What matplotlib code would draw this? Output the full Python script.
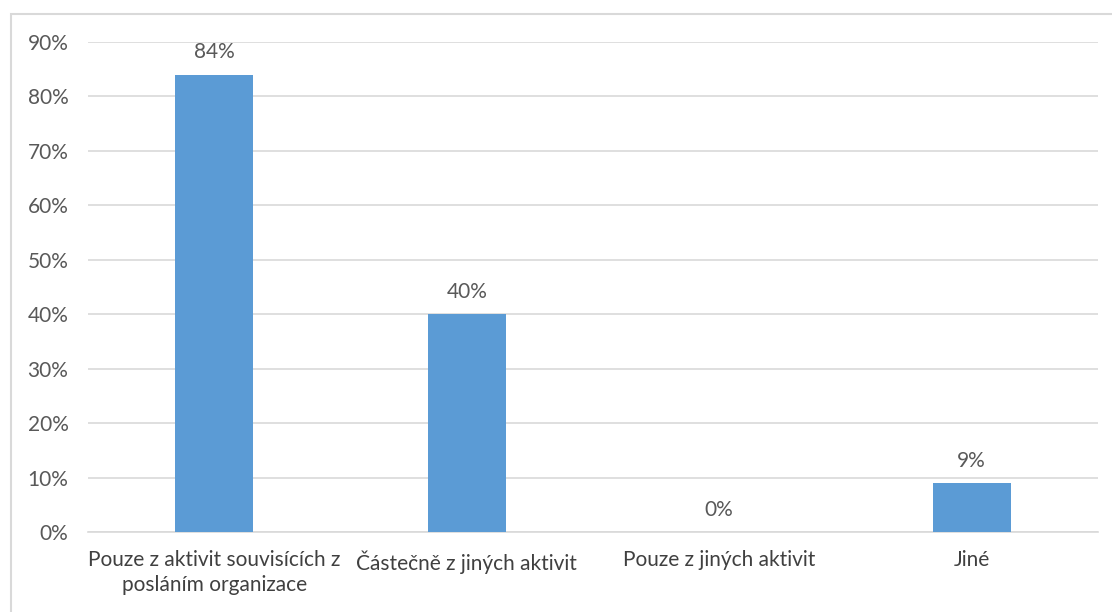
import matplotlib.pyplot as plt
from matplotlib.patches import Rectangle
from matplotlib.ticker import FuncFormatter

categories = ["Pouze z aktivit souvisících z\nposláním organizace",
              "Částečně z jiných aktivit",
              "Pouze z jiných aktivit",
              "Jiné"]
values = [84, 40, 0, 9]
yticks = [0, 10, 20, 30, 40, 50, 60, 70, 80, 90]

bar_color = "#5B9BD5"
text_color = "#595959"
grid_color = "#D9D9D9"

plt.rcParams['font.family'] = ['Lato', 'DejaVu Sans']

fig = plt.figure(figsize=(11.12, 6.12), dpi=100)
ax = fig.add_axes([0.0791, 0.1307, 0.9083, 0.8007])

# outer chart frame
fig.patches.append(Rectangle((11 / 1112, -0.01), 1.0, 1 - 14 / 612 + 0.01,
                             transform=fig.transFigure, fill=False,
                             edgecolor=grid_color, linewidth=1.5))

x = range(len(categories))
bars = ax.bar(x, values, width=0.31, color=bar_color, zorder=3)

for xi, v in zip(x, values):
    ax.annotate(f"{v}%", (xi, v), xytext=(0, 9), textcoords="offset points",
                ha="center", va="bottom", fontsize=15, color=text_color)

ax.set_xlim(-0.5, len(categories) - 0.5)
ax.set_ylim(0, 90)
ax.set_yticks(yticks)
ax.yaxis.set_major_formatter(FuncFormatter(lambda v, p: f"{v:.0f}%"))
ax.set_xticks(list(x))
ax.set_xticklabels(categories, linespacing=1.3)

ax.grid(axis="y", color=grid_color, linewidth=1.2, zorder=0)
for s in ["top", "right", "left"]:
    ax.spines[s].set_visible(False)
ax.spines["bottom"].set_color(grid_color)
ax.spines["bottom"].set_linewidth(1.2)

ax.tick_params(axis="y", length=0, pad=14, labelsize=15, labelcolor=text_color)
ax.tick_params(axis="x", length=0, pad=13, labelsize=15, labelcolor="#404040")

plt.savefig("out.png", dpi=100)
plt.close(fig)
